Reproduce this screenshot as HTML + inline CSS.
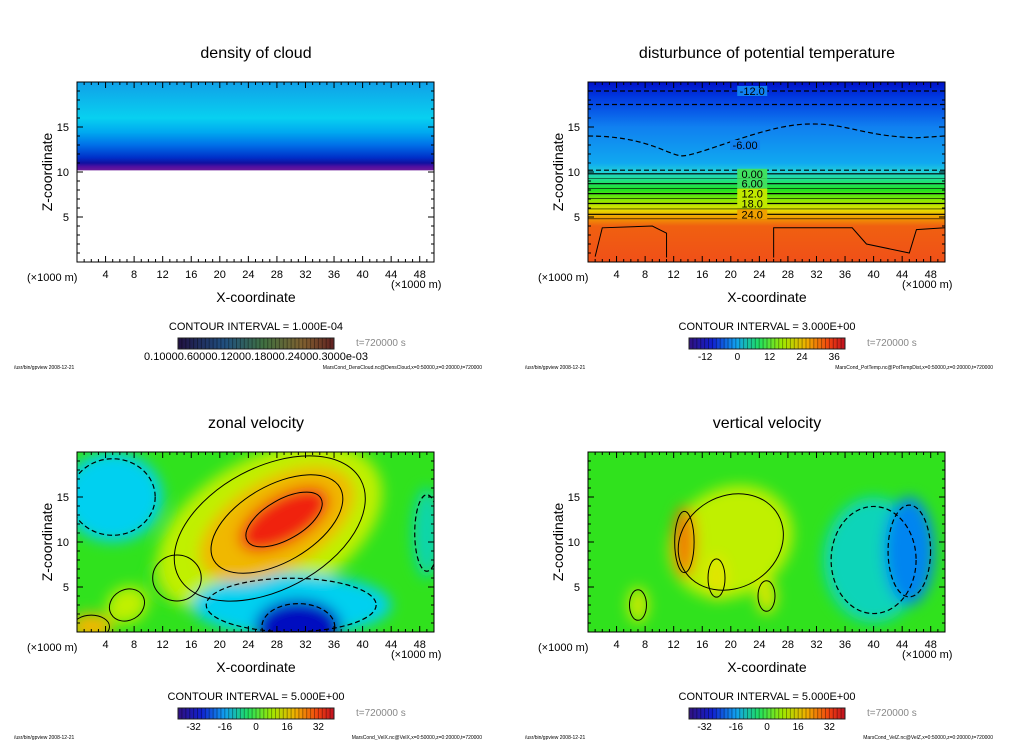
<!DOCTYPE html>
<html><head><meta charset="utf-8"><style>
body{margin:0;background:#fff;}
svg{display:block;font-family:"Liberation Sans",sans-serif;}
</style></head><body>
<svg id="s" width="1024" height="740" viewBox="0 0 1024 740">
<defs>
<filter id="bl" x="-50%" y="-50%" width="200%" height="200%"><feGaussianBlur stdDeviation="7"/></filter>
<linearGradient id="gCloud" x1="0" y1="0" x2="0" y2="1">
<stop offset="0" stop-color="#10a0e8"/><stop offset="0.2" stop-color="#08d0f0"/><stop offset="0.28" stop-color="#00a8f0"/>
<stop offset="0.35" stop-color="#0070e8"/><stop offset="0.42" stop-color="#0030c8"/><stop offset="0.45" stop-color="#1010a0"/>
<stop offset="0.47" stop-color="#5010a0"/><stop offset="0.49" stop-color="#6a1a9a"/><stop offset="0.491" stop-color="#ffffff"/><stop offset="1" stop-color="#ffffff"/>
</linearGradient>
<linearGradient id="gTemp" x1="0" y1="0" x2="0" y2="1">
<stop offset="0" stop-color="#0010c8"/><stop offset="0.08" stop-color="#0038e0"/><stop offset="0.25" stop-color="#1080f0"/>
<stop offset="0.45" stop-color="#10a8f0"/><stop offset="0.5" stop-color="#20d0d8"/><stop offset="0.54" stop-color="#20e090"/>
<stop offset="0.6" stop-color="#20e020"/><stop offset="0.66" stop-color="#90e800"/><stop offset="0.71" stop-color="#e8e000"/>
<stop offset="0.75" stop-color="#f0a000"/><stop offset="0.8" stop-color="#f06010"/><stop offset="1" stop-color="#f05018"/>
</linearGradient>
<linearGradient id="gBar" x1="0" y1="0" x2="1" y2="0">
<stop offset="0" stop-color="#301080"/><stop offset="0.15" stop-color="#1020d0"/><stop offset="0.3" stop-color="#10a0f0"/>
<stop offset="0.45" stop-color="#20e060"/><stop offset="0.6" stop-color="#a0e800"/><stop offset="0.75" stop-color="#f0b000"/>
<stop offset="0.9" stop-color="#f04010"/><stop offset="1" stop-color="#c01020"/>
</linearGradient>
<linearGradient id="gBarDark" x1="0" y1="0" x2="1" y2="0">
<stop offset="0" stop-color="#201040"/><stop offset="0.3" stop-color="#205080"/><stop offset="0.55" stop-color="#407040"/>
<stop offset="0.8" stop-color="#806030"/><stop offset="1" stop-color="#602020"/>
</linearGradient>
</defs>
</svg>
<script>
const NS='http://www.w3.org/2000/svg';
const svg=document.getElementById('s');
// ---- data ----
const xTicks=[4,8,12,16,20,24,28,32,36,40,44,48];
const zTicks=[5,10,15];
const titles=['density of cloud','disturbunce of potential temperature','zonal velocity','vertical velocity'];
const intervals=['1.000E-04','3.000E+00','5.000E+00','5.000E+00'];
const barLabelsTemp=['-12','0','12','24','36'];
const barValsTemp=[-12,0,12,24,36];
const barLabelsVel=['-32','-16','0','16','32'];
const barValsVel=[-32,-16,0,16,32];
const footR=['MarsCond_DensCloud.nc@DensCloud,x=0:50000,z=0:20000,t=720000','MarsCond_PotTemp.nc@PotTempDist,x=0:50000,z=0:20000,t=720000','MarsCond_VelX.nc@VelX,x=0:50000,z=0:20000,t=720000','MarsCond_VelZ.nc@VelZ,x=0:50000,z=0:20000,t=720000'];
// blobs: x km, z km, rx km, rz km, value (-1..1), rotation deg
const zonalX=[27,28,29,31,30,5,7,2,49,14];
const zonalZ=[11.5,12,12.5,0.6,3,15,3,0.6,11,6];
const zonalRX=[17,12,7,6,14,7,3,3,2,4];
const zonalRZ=[8,5,2.6,3,3.5,5,2,1.5,5,3];
const zonalV=[0.3,0.6,1.0,-1.0,-0.3,-0.3,0.3,0.6,-0.2,0.05];
const zonalR=[-28,-30,-30,0,0,0,-30,0,0,0];
const vertX=[20,13.5,18,25,7,45,40];
const vertZ=[10,10,6,4,3,9,8];
const vertRX=[9,1.6,1.4,1.4,1.4,3.5,7];
const vertRZ=[6,4,2.5,2,2,6,7];
const vertV=[0.3,0.75,0.45,0.4,0.35,-0.5,-0.22];
const vertR=[-30,0,0,0,0,0,0];
const tempLines=[19.0,17.5,10.2,9.8,9.25,8.7,8.15,7.6,7.05,6.5,5.9,5.3,4.8];
const tempLabelText=['-12.0','-6.00','0.00','6.00','12.0','18.0','24.0'];
const tempLabelZ=[19,13,9.8,8.7,7.6,6.5,5.3];
// ---- helpers ----
function el(t,a,p){const e=document.createElementNS(NS,t);for(const k in a)e.setAttribute(k,a[k]);(p||svg).appendChild(e);return e;}
function txt(s,x,y,size,p,anchor,fill){const t=el('text',{x:x,y:y,'font-size':size,'text-anchor':anchor||'middle',fill:fill||'#000'},p);t.textContent=s;return t;}
function cmap(v){const st=[[-1,[0,16,192]],[-0.6,[0,96,240]],[-0.3,[0,208,240]],[0,[32,224,32]],[0.3,[192,240,0]],[0.5,[240,224,0]],[0.7,[240,144,0]],[1,[240,32,16]]];
 v=Math.max(-1,Math.min(1,v));for(let i=0;i<st.length-1;i++){if(v<=st[i+1][0]){const f=(v-st[i][0])/(st[i+1][0]-st[i][0]);const a=st[i][1],b=st[i+1][1];return 'rgb('+a.map((c,j)=>Math.round(c+(b[j]-c)*f)).join(',')+')';}}return 'rgb(240,32,16)';}
const panels=[{ox:0,oy:0},{ox:511,oy:0},{ox:0,oy:370},{ox:511,oy:370}];
panels.forEach((P,i)=>{
 const g=el('g',{transform:'translate('+P.ox+','+P.oy+')'});
 
 
 const x0=77,x1=434,y0=82,y1=262;
 const X=km=>x0+km*(x1-x0)/50, Z=km=>y1-km*(y1-y0)/20;
 const cid='clip'+i;
 const cp=el('clipPath',{id:cid},g);el('rect',{x:x0,y:y0,width:x1-x0,height:y1-y0},cp);
 const fg=el('g',{'clip-path':'url(#'+cid+')'},g);
 
 
 if(i===0){el('rect',{x:x0,y:y0,width:x1-x0,height:y1-y0,fill:'url(#gCloud)'},fg);}
 else if(i===1){el('rect',{x:x0,y:y0,width:x1-x0,height:y1-y0,fill:'url(#gTemp)'},fg);
  tempLines.forEach((z,k)=>{const l=el('path',{d:'M'+x0+','+Z(z)+' L'+x1+','+Z(z),stroke:'#000','stroke-width':k<3?1.2:(k%2?1.2:0.6),fill:'none','stroke-dasharray':k<3?'5,3':'none'},fg);});
  el('path',{d:'M'+X(0)+','+Z(14)+' C'+X(8)+','+Z(14)+' '+X(11)+','+Z(12)+' '+X(13)+','+Z(11.8)+' S'+X(24)+','+Z(15)+' '+X(30)+','+Z(15.3)+' S'+X(38)+','+Z(14)+' '+X(46)+','+Z(13.8)+' L'+X(50)+','+Z(14),stroke:'#000','stroke-dasharray':'5,3',fill:'none','stroke-width':1.2},fg);
  el('path',{d:'M'+X(1)+','+Z(0.6)+' L'+X(2)+','+Z(3.8)+' L'+X(9)+','+Z(4)+' L'+X(11)+','+Z(3.2)+' L'+X(11)+','+Z(0.5)+' M'+X(26)+','+Z(0.5)+' L'+X(26)+','+Z(3.8)+' L'+X(37)+','+Z(3.8)+' L'+X(39)+','+Z(2)+' L'+X(45)+','+Z(1)+' L'+X(46)+','+Z(3.6)+' L'+X(50)+','+Z(3.8),stroke:'#000',fill:'none'},fg);
  tempLabelText.forEach((s,k)=>{const cx=k===1?X(22):X(23);const cy=Z(tempLabelZ[k]);
   el('rect',{x:cx-15,y:cy-5,width:30,height:10,fill:k<2?'#1080f0':(k<4?'#40e060':(k<6?'#c0e800':'#f0a000'))},fg);
   const t=txt(s,cx,cy+4,11,fg);});
 } else {
  el('rect',{x:x0,y:y0,width:x1-x0,height:y1-y0,fill:cmap(0.03)},fg);
  const bg=el('g',{filter:'url(#bl)'},fg);
  const A=i===2?[zonalX,zonalZ,zonalRX,zonalRZ,zonalV,zonalR]:[vertX,vertZ,vertRX,vertRZ,vertV,vertR];
  const order=A[0].map((_,k)=>k).sort((a,b)=>Math.abs(A[4][a])-Math.abs(A[4][b]));
  order.forEach(k=>{const cx=X(A[0][k]),cy=Z(A[1][k]);
   const e=el('ellipse',{cx:cx,cy:cy,rx:A[2][k]*7.14,ry:A[3][k]*9,fill:cmap(A[4][k]),transform:'rotate('+A[5][k]+' '+cx+' '+cy+')'},bg);
   
   
   const c=el('ellipse',{cx:cx,cy:cy,rx:A[2][k]*7.14*0.85,ry:A[3][k]*9*0.85,fill:'none',stroke:'#000','stroke-width':A[4][k]<0?1.2:1,'stroke-dasharray':A[4][k]<0?'5,3':'none',transform:'rotate('+A[5][k]+' '+cx+' '+cy+')'},fg);
   
   
  });
 }
 el('rect',{x:x0,y:y0,width:x1-x0,height:y1-y0,fill:'none',stroke:'#000','stroke-width':1},g);
 for(let k=1;k<50;k++){const len=k%4===0?6:3;el('line',{x1:X(k),x2:X(k),y1:y1,y2:y1-len,stroke:'#000'},g);el('line',{x1:X(k),x2:X(k),y1:y0,y2:y0+len,stroke:'#000'},g);}
 for(let k=1;k<20;k++){const len=k%5===0?6:3;el('line',{x1:x0,x2:x0+len,y1:Z(k),y2:Z(k),stroke:'#000'},g);el('line',{x1:x1,x2:x1-len,y1:Z(k),y2:Z(k),stroke:'#000'},g);}
 xTicks.forEach(v=>{const t=txt(String(v),X(v),y1+16,11,g);});
 zTicks.forEach(v=>{const t=txt(String(v),x0-8,Z(v)+4,11,g,'end');});
 txt('(×1000 m)',27,y1+19,11,g,'start');
 txt('(×1000 m)',391,y1+26,11,g,'start');
 const xt=txt('X-coordinate',256,302,14,g);
 const yt=txt('Z-coordinate',0,0,14,g);yt.setAttribute('transform','translate(52,172) rotate(-90)');
 const tt=txt(titles[i],256,58,16,g);
 const ci=txt('CONTOUR INTERVAL = '+intervals[i],256,330,11,g);
 const bx0=178,bx1=334;
 const cb=el('rect',{x:bx0,y:338,width:bx1-bx0,height:11,fill:i===0?'url(#gBarDark)':'url(#gBar)',stroke:'#222'},g);
 
 for(let k=1;k<40;k++)el('line',{x1:bx0+k*(bx1-bx0)/40,x2:bx0+k*(bx1-bx0)/40,y1:338,y2:349,stroke:'#000','stroke-opacity':0.35},g);
 txt('t=720000 s',356,346,10,g,'start','#888');
 if(i===0){txt('0.10000.60000.12000.18000.24000.3000e-03',256,360,11,g);}
 else {const labs=i===1?barLabelsTemp:barLabelsVel, vals=i===1?barValsTemp:barValsVel;const lo=i===1?-18:-40,hi=40;
  labs.forEach((s,k)=>{const t=txt(s,bx0+(vals[k]-lo)/(hi-lo)*(bx1-bx0),360,10,g);});}
 txt('/usr/bin/gpview   2008-12-21',14,369,5,g,'start');
 txt(footR[i],482,369,5,g,'end');
});
</script>
</body></html>
